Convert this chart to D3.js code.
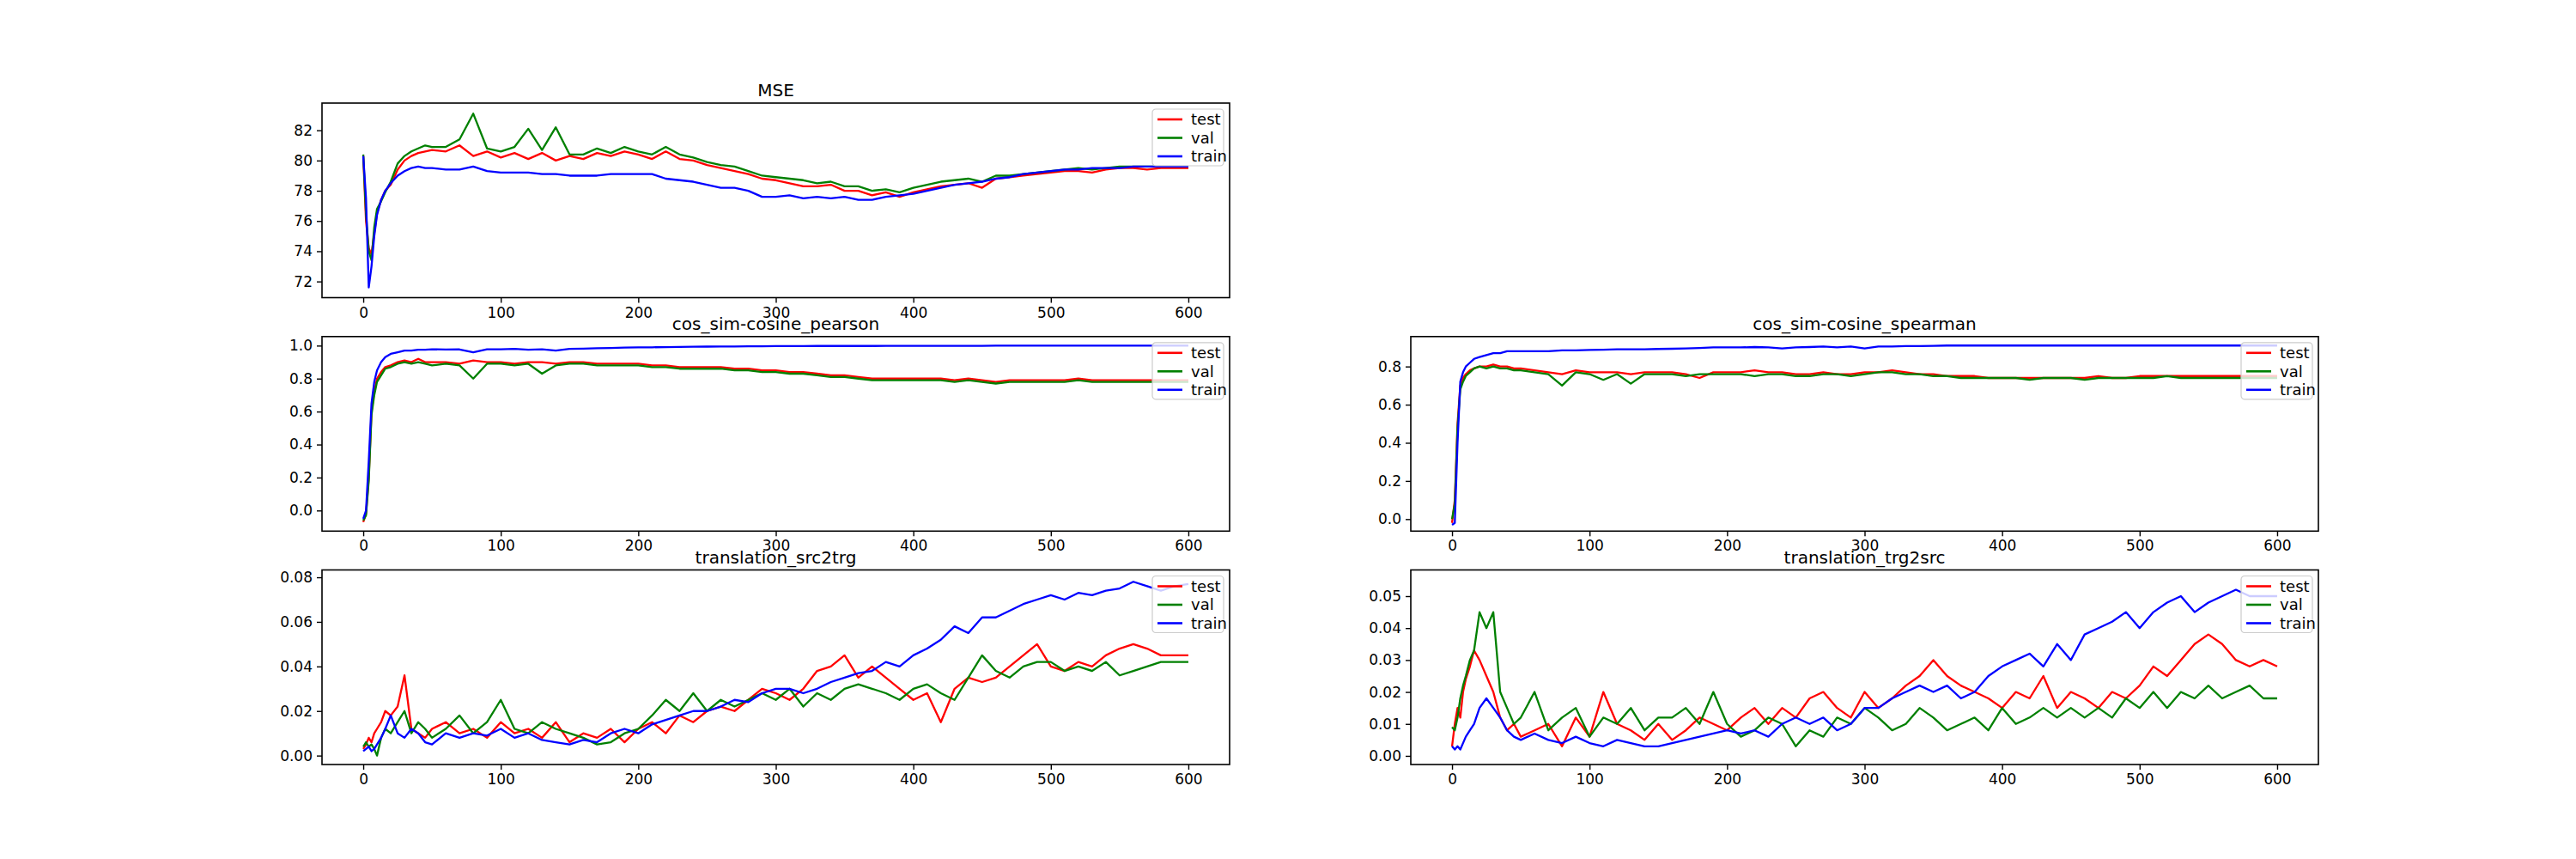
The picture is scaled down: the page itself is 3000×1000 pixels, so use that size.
<!DOCTYPE html>
<html>
<head>
<meta charset="utf-8">
<script src="https://cdn.jsdelivr.net/npm/d3@7"></script>
<style>
  body { margin: 0; background: #fff; }
  text { font-family: "DejaVu Sans", sans-serif; }
</style>
</head>
<body>
<svg id="fig" width="3000" height="1000"></svg>
<script>
// epochs: dense at the start, then every 10
const epochs = [0, 2, 4, 6, 8, 10, 13, 16, 20, 25, 30, 35, 40, 45, 50,
  60, 70, 80, 90, 100, 110, 120, 130, 140, 150,
  160, 170, 180, 190, 200, 210, 220, 230, 240, 250,
  260, 270, 280, 290, 300, 310, 320, 330, 340, 350,
  360, 370, 380, 390, 400, 410, 420, 430, 440, 450,
  460, 470, 480, 490, 500, 510, 520, 530, 540, 550,
  560, 570, 580, 590, 600];

const seriesNames = ["test", "val", "train"];
const seriesColors = ["red", "green", "blue"];

const mseTest = [80.3, 76.0, 74.2, 73.8, 75.2, 76.5, 77.4, 78.0, 78.4, 79.4, 80.0, 80.3, 80.5, 80.6, 80.7,
  80.6, 81.0, 80.3, 80.6, 80.2, 80.5, 80.1, 80.5, 80.0, 80.3,
  80.1, 80.5, 80.3, 80.6, 80.4, 80.1, 80.6, 80.1, 80.0, 79.7,
  79.5, 79.3, 79.1, 78.8, 78.7, 78.5, 78.3, 78.3, 78.4, 78.0,
  78.0, 77.7, 77.9, 77.6, 77.9, 78.1, 78.3, 78.4, 78.5, 78.2,
  78.8, 78.9, 79.0, 79.1, 79.2, 79.3, 79.3, 79.2, 79.4, 79.5,
  79.5, 79.4, 79.5, 79.5, 79.5];
const mseVal = [80.4, 76.5, 74.0, 73.4, 75.6, 76.8, 77.3, 77.9, 78.6, 79.8, 80.3, 80.6, 80.8, 81.0, 80.9,
  80.9, 81.4, 83.1, 80.8, 80.6, 80.9, 82.1, 80.7, 82.2, 80.4,
  80.4, 80.8, 80.5, 80.9, 80.6, 80.4, 80.9, 80.4, 80.2, 79.9,
  79.7, 79.6, 79.3, 79.0, 78.9, 78.8, 78.7, 78.5, 78.6, 78.3,
  78.3, 78.0, 78.1, 77.9, 78.2, 78.4, 78.6, 78.7, 78.8, 78.6,
  79.0, 79.0, 79.1, 79.2, 79.3, 79.4, 79.5, 79.4, 79.5, 79.6,
  79.6, 79.6, 79.6, 79.6, 79.6];
const mseTrain = [80.3, 77.5, 71.6, 73.0, 75.0, 76.4, 77.4, 78.0, 78.5, 79.0, 79.3, 79.5, 79.6, 79.5, 79.5,
  79.4, 79.4, 79.6, 79.3, 79.2, 79.2, 79.2, 79.1, 79.1, 79.0,
  79.0, 79.0, 79.1, 79.1, 79.1, 79.1, 78.8, 78.7, 78.6, 78.4,
  78.2, 78.2, 78.0, 77.6, 77.6, 77.7, 77.5, 77.6, 77.5, 77.6,
  77.4, 77.4, 77.6, 77.7, 77.8, 78.0, 78.2, 78.4, 78.5, 78.6,
  78.8, 78.9, 79.1, 79.2, 79.3, 79.4, 79.4, 79.5, 79.5, 79.5,
  79.6, 79.6, 79.6, 79.6, 79.6];

const pearTest = [-0.07, -0.02, 0.2, 0.6, 0.72, 0.8, 0.84, 0.87, 0.88, 0.9, 0.91, 0.9, 0.92, 0.9, 0.9,
  0.9, 0.89, 0.91, 0.9, 0.9, 0.89, 0.9, 0.9, 0.89, 0.9,
  0.9, 0.89, 0.89, 0.89, 0.89, 0.88, 0.88, 0.87, 0.87, 0.87,
  0.87, 0.86, 0.86, 0.85, 0.85, 0.84, 0.84, 0.83, 0.82, 0.82,
  0.81, 0.8, 0.8, 0.8, 0.8, 0.8, 0.8, 0.79, 0.8, 0.79,
  0.78, 0.79, 0.79, 0.79, 0.79, 0.79, 0.8, 0.79, 0.79, 0.79,
  0.79, 0.79, 0.79, 0.79, 0.79];
const pearVal = [-0.06, -0.03, 0.18, 0.58, 0.7, 0.78, 0.82, 0.86, 0.87, 0.89, 0.9, 0.89, 0.9, 0.89, 0.88,
  0.89, 0.88, 0.8, 0.89, 0.89, 0.88, 0.89, 0.83, 0.88, 0.89,
  0.89, 0.88, 0.88, 0.88, 0.88, 0.87, 0.87, 0.86, 0.86, 0.86,
  0.86, 0.85, 0.85, 0.84, 0.84, 0.83, 0.83, 0.82, 0.81, 0.81,
  0.8, 0.79, 0.79, 0.79, 0.79, 0.79, 0.79, 0.78, 0.79, 0.78,
  0.77, 0.78, 0.78, 0.78, 0.78, 0.78, 0.79, 0.78, 0.78, 0.78,
  0.78, 0.78, 0.78, 0.78, 0.78];
const pearTrain = [-0.05, 0.0, 0.3, 0.65, 0.78, 0.85, 0.9, 0.93, 0.95, 0.96, 0.97, 0.97, 0.975, 0.975, 0.978,
  0.976, 0.977, 0.96, 0.978, 0.978, 0.98, 0.975, 0.978, 0.97, 0.98,
  0.982, 0.984, 0.986, 0.988, 0.99, 0.99, 0.991, 0.992, 0.993, 0.994,
  0.995, 0.995, 0.996, 0.996, 0.997, 0.997, 0.997, 0.998, 0.998, 0.998,
  0.998, 0.998, 0.999, 0.999, 0.999, 0.999, 0.999, 0.999, 0.999, 0.999,
  1.0, 1.0, 1.0, 1.0, 1.0, 1.0, 1.0, 1.0, 1.0, 1.0,
  1.0, 1.0, 1.0, 1.0, 1.0];

const spearTest = [-0.02, 0.1, 0.5, 0.7, 0.74, 0.76, 0.78, 0.79, 0.8, 0.8, 0.81, 0.8, 0.8, 0.79, 0.79,
  0.78, 0.77, 0.76, 0.78, 0.77, 0.77, 0.77, 0.76, 0.77, 0.77,
  0.77, 0.76, 0.74, 0.77, 0.77, 0.77, 0.78, 0.77, 0.77, 0.76,
  0.76, 0.77, 0.76, 0.76, 0.77, 0.77, 0.78, 0.77, 0.76, 0.76,
  0.75, 0.75, 0.75, 0.74, 0.74, 0.74, 0.74, 0.74, 0.74, 0.74,
  0.74, 0.75, 0.74, 0.74, 0.75, 0.75, 0.75, 0.75, 0.75, 0.75,
  0.75, 0.75, 0.75, 0.75, 0.75];
const spearVal = [0.0, 0.08, 0.48, 0.68, 0.72, 0.75, 0.77, 0.79, 0.8, 0.79, 0.8, 0.79, 0.79, 0.78, 0.78,
  0.77, 0.76, 0.7, 0.77, 0.76, 0.73, 0.76, 0.71, 0.76, 0.76,
  0.76, 0.75, 0.76, 0.76, 0.76, 0.76, 0.75, 0.76, 0.76, 0.75,
  0.75, 0.76, 0.76, 0.75, 0.76, 0.77, 0.77, 0.76, 0.76, 0.75,
  0.75, 0.74, 0.74, 0.74, 0.74, 0.74, 0.73, 0.74, 0.74, 0.74,
  0.73, 0.74, 0.74, 0.74, 0.74, 0.74, 0.75, 0.74, 0.74, 0.74,
  0.74, 0.74, 0.74, 0.74, 0.74];
const spearTrain = [-0.03, -0.02, 0.4, 0.72, 0.77, 0.8, 0.82, 0.84, 0.85, 0.86, 0.87, 0.87, 0.88, 0.88, 0.88,
  0.88, 0.88, 0.885, 0.885, 0.887, 0.888, 0.89, 0.89, 0.89, 0.892,
  0.893, 0.895, 0.897, 0.9, 0.9, 0.9, 0.902, 0.9, 0.895, 0.9,
  0.902, 0.905, 0.9, 0.905, 0.895, 0.905, 0.905, 0.907, 0.907, 0.908,
  0.91, 0.91, 0.91, 0.91, 0.91, 0.91, 0.91, 0.91, 0.91, 0.91,
  0.91, 0.91, 0.91, 0.91, 0.91, 0.91, 0.91, 0.91, 0.91, 0.91,
  0.91, 0.91, 0.91, 0.91, 0.91];

const s2tTest = [0.003, 0.005, 0.008, 0.006, 0.01, 0.012, 0.015, 0.02, 0.018, 0.022, 0.036, 0.012, 0.01, 0.008, 0.012,
  0.015, 0.01, 0.012, 0.008, 0.015, 0.01, 0.012, 0.008, 0.015, 0.006,
  0.01, 0.008, 0.012, 0.006, 0.012, 0.015, 0.01, 0.018, 0.015, 0.02,
  0.022, 0.02, 0.025, 0.03, 0.028, 0.025, 0.03, 0.038, 0.04, 0.045,
  0.035, 0.04, 0.035, 0.03, 0.025, 0.028, 0.015, 0.03, 0.035, 0.033,
  0.035, 0.04, 0.045, 0.05, 0.04, 0.038, 0.042, 0.04, 0.045, 0.048,
  0.05, 0.048, 0.045, 0.045, 0.045];
const s2tVal = [0.004, 0.006, 0.004, 0.005, 0.003, 0.0, 0.008, 0.012, 0.01, 0.015, 0.02, 0.01, 0.015, 0.012, 0.008,
  0.012, 0.018, 0.01, 0.015, 0.025, 0.012, 0.01, 0.015, 0.012, 0.01,
  0.008, 0.005, 0.006, 0.01, 0.012, 0.018, 0.025, 0.02, 0.028, 0.02,
  0.025, 0.022, 0.025, 0.028, 0.025, 0.03, 0.022, 0.028, 0.025, 0.03,
  0.032, 0.03, 0.028, 0.025, 0.03, 0.032, 0.028, 0.025, 0.035, 0.045,
  0.038, 0.035, 0.04, 0.042, 0.042, 0.038, 0.04, 0.038, 0.042, 0.036,
  0.038, 0.04, 0.042, 0.042, 0.042];
const s2tTrain = [0.002, 0.003, 0.004, 0.002, 0.003, 0.005, 0.008, 0.012, 0.018, 0.01, 0.008, 0.012, 0.01, 0.006, 0.005,
  0.01, 0.008, 0.01, 0.009, 0.012, 0.008, 0.01, 0.007, 0.006, 0.005,
  0.007, 0.006, 0.01, 0.012, 0.01, 0.014, 0.016, 0.018, 0.02, 0.02,
  0.022, 0.025, 0.024, 0.028, 0.03, 0.03, 0.028, 0.03, 0.033, 0.035,
  0.037, 0.038, 0.042, 0.04, 0.045, 0.048, 0.052, 0.058, 0.055, 0.062,
  0.062, 0.065, 0.068, 0.07, 0.072, 0.07, 0.073, 0.072, 0.074, 0.075,
  0.078, 0.076, 0.074, 0.076, 0.077];

const t2sTest = [0.003, 0.01, 0.015, 0.012, 0.02, 0.024, 0.028, 0.033, 0.03, 0.025, 0.02, 0.012, 0.008, 0.01, 0.006,
  0.008, 0.01, 0.003, 0.012, 0.006, 0.02, 0.01, 0.008, 0.005, 0.01,
  0.005, 0.008, 0.012, 0.01, 0.008, 0.012, 0.015, 0.01, 0.015, 0.012,
  0.018, 0.02, 0.015, 0.012, 0.02, 0.015, 0.018, 0.022, 0.025, 0.03,
  0.025, 0.022, 0.02, 0.018, 0.015, 0.02, 0.018, 0.025, 0.015, 0.02,
  0.018, 0.015, 0.02, 0.018, 0.022, 0.028, 0.025, 0.03, 0.035, 0.038,
  0.035, 0.03, 0.028, 0.03, 0.028];
const t2sVal = [0.009, 0.008, 0.012, 0.018, 0.022, 0.025, 0.03, 0.033, 0.045, 0.04, 0.045, 0.02, 0.015, 0.01, 0.012,
  0.02, 0.008, 0.012, 0.015, 0.006, 0.012, 0.01, 0.015, 0.008, 0.012,
  0.012, 0.015, 0.01, 0.02, 0.01, 0.006, 0.008, 0.012, 0.01, 0.003,
  0.008, 0.006, 0.012, 0.01, 0.015, 0.012, 0.008, 0.01, 0.015, 0.012,
  0.008, 0.01, 0.012, 0.008, 0.015, 0.01, 0.012, 0.015, 0.012, 0.015,
  0.012, 0.015, 0.012, 0.018, 0.015, 0.02, 0.015, 0.02, 0.018, 0.022,
  0.018, 0.02, 0.022, 0.018, 0.018];
const t2sTrain = [0.003, 0.002, 0.003, 0.002, 0.004, 0.006, 0.008, 0.01, 0.015, 0.018, 0.015, 0.012, 0.008, 0.006, 0.005,
  0.007, 0.005, 0.004, 0.006, 0.004, 0.003, 0.005, 0.004, 0.003, 0.003,
  0.004, 0.005, 0.006, 0.007, 0.008, 0.007, 0.008, 0.006, 0.01, 0.012,
  0.01, 0.012, 0.008, 0.01, 0.015, 0.015, 0.018, 0.02, 0.022, 0.02,
  0.022, 0.018, 0.02, 0.025, 0.028, 0.03, 0.032, 0.028, 0.035, 0.03,
  0.038, 0.04, 0.042, 0.045, 0.04, 0.045, 0.048, 0.05, 0.045, 0.048,
  0.05, 0.052, 0.05, 0.05, 0.05];

const panels = [
  { title: "MSE", row: 0, col: 0, y: [70.93, 83.8], ticks: [72, 74, 76, 78, 80, 82], fmt: d3.format("d"), data: [mseTest, mseVal, mseTrain] },
  { title: "cos_sim-cosine_pearson", row: 1, col: 0, y: [-0.125, 1.055], ticks: [0, 0.2, 0.4, 0.6, 0.8, 1.0], fmt: d3.format(".1f"), data: [pearTest, pearVal, pearTrain] },
  { title: "cos_sim-cosine_spearman", row: 1, col: 1, y: [-0.063, 0.957], ticks: [0, 0.2, 0.4, 0.6, 0.8], fmt: d3.format(".1f"), data: [spearTest, spearVal, spearTrain] },
  { title: "translation_src2trg", row: 2, col: 0, y: [-0.004, 0.0833], ticks: [0, 0.02, 0.04, 0.06, 0.08], fmt: d3.format(".2f"), data: [s2tTest, s2tVal, s2tTrain] },
  { title: "translation_trg2src", row: 2, col: 1, y: [-0.0027, 0.0582], ticks: [0, 0.01, 0.02, 0.03, 0.04, 0.05], fmt: d3.format(".2f"), data: [t2sTest, t2sVal, t2sTrain] }
];

const svg = d3.select("#fig");
const axW = 1057, axH = 226.5;
const colX = [375, 1643], rowY = [120, 391.8, 663.5];

panels.forEach(p => {
  const g = svg.append("g").attr("transform", `translate(${colX[p.col]},${rowY[p.row]})`);
  const x = d3.scaleLinear().domain([-30, 630]).range([0, axW]);
  const y = d3.scaleLinear().domain(p.y).range([axH, 0]);

  const line = d3.line().x((d, i) => x(epochs[i])).y(d => y(d));
  p.data.forEach((s, k) => {
    g.append("path").datum(s).attr("d", line)
      .attr("fill", "none").attr("stroke", seriesColors[k]).attr("stroke-width", 2.3)
      .attr("stroke-linejoin", "round");
  });

  g.append("rect").attr("width", axW).attr("height", axH)
    .attr("fill", "none").attr("stroke", "#000").attr("stroke-width", 1.6);

  const xa = g.append("g").attr("transform", `translate(0,${axH})`)
    .call(d3.axisBottom(x).tickValues([0, 100, 200, 300, 400, 500, 600]).tickSize(6).tickPadding(5).tickFormat(d3.format("d")));
  const ya = g.append("g")
    .call(d3.axisLeft(y).tickValues(p.ticks).tickSize(6).tickPadding(5).tickFormat(p.fmt));
  [xa, ya].forEach(a => {
    a.select(".domain").remove();
    a.selectAll("line").attr("stroke", "#000").attr("stroke-width", 1.4);
    a.selectAll("text").attr("font-size", 17).attr("fill", "#000").attr("font-family", "DejaVu Sans");
  });

  g.append("text").attr("x", axW / 2).attr("y", -8).attr("text-anchor", "middle")
    .attr("font-size", 20).text(p.title);

  // legend, upper right
  const lg = g.append("g").attr("transform", `translate(${axW - 90},7)`);
  lg.append("rect").attr("width", 83).attr("height", 66).attr("rx", 4)
    .attr("fill", "#fff").attr("fill-opacity", 0.8).attr("stroke", "#ccc").attr("stroke-width", 1.2);
  seriesNames.forEach((n, k) => {
    const yy = 12 + k * 21.5;
    lg.append("line").attr("x1", 6).attr("x2", 35).attr("y1", yy).attr("y2", yy)
      .attr("stroke", seriesColors[k]).attr("stroke-width", 2.6);
    lg.append("text").attr("x", 45).attr("y", yy).attr("dy", "0.35em").attr("font-size", 18).text(n);
  });
});
</script>
</body>
</html>
